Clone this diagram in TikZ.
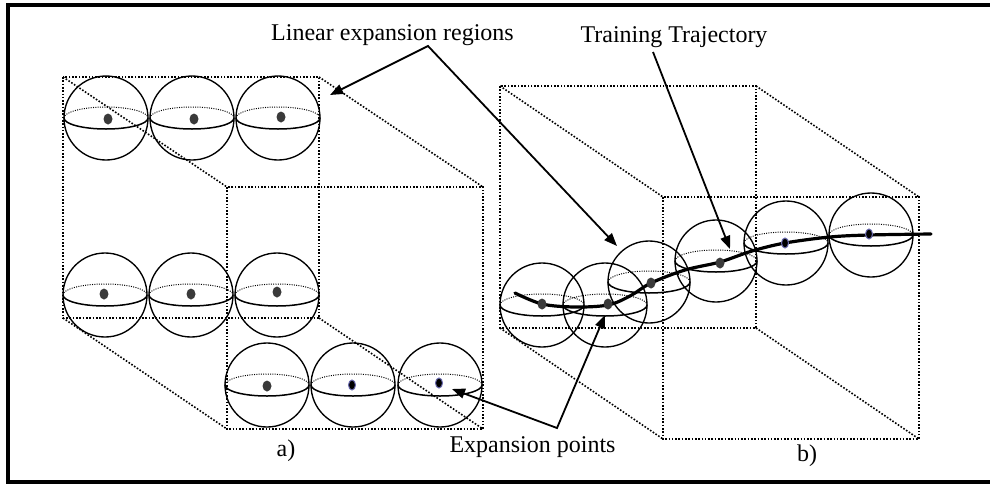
\documentclass[tikz,border=0pt]{standalone}
\usepackage{fontspec}
\setmainfont{Liberation Serif}
\usetikzlibrary{arrows.meta}
\definecolor{dotgray}{HTML}{3A3A3A}
\definecolor{bluish}{HTML}{6A6AB0}
\newcommand\mysphere[3]{%
  \draw[ballline] (#1,#2) circle[radius=#3pt];
  \draw[eqback] (#1,#2) ++(-#3pt,0pt) arc[start angle=180,end angle=0,x radius=#3pt,y radius=11pt];
  \draw[eqfront] (#1,#2) ++(-#3pt,0pt) arc[start angle=180,end angle=360,x radius=#3pt,y radius=11pt];
}
\newcommand\graydot[2]{\fill[dotgray] (#1,#2) ellipse[x radius=4.5pt,y radius=5.5pt];}
\newcommand\bluedot[2]{\filldraw[fill=black,draw=bluish,line width=1pt] (#1,#2) ellipse[x radius=3.5pt,y radius=5pt];}
\begin{document}
\begin{tikzpicture}[x=1pt,y=-1pt,
  frame/.style={line width=4pt},
  cubeedge/.style={line width=1.6pt, dash pattern=on 1.6pt off 1.7pt},
  ballline/.style={line width=1.35pt},
  eqfront/.style={line width=1.5pt},
  eqback/.style={line width=1pt, dash pattern=on 1pt off 1.3pt},
  arr/.style={line width=1.8pt, line join=miter},
  lbl/.style={font=\fontsize{24}{28}\selectfont, inner sep=0pt, anchor=base},
  traj/.style={line width=3.2pt, line cap=round}]
\useasboundingbox (0,0) rectangle (990,485);

% ---- left cube (a)
\draw[cubeedge] (63,77) rectangle (319,318);
\draw[cubeedge] (227,187) rectangle (483,429);
\draw[cubeedge] (63,77) -- (227,187);
\draw[cubeedge] (319,77) -- (483,187);
\draw[cubeedge] (63,318) -- (227,429);
\draw[cubeedge] (319,318) -- (483,429);

% ---- right cube (b)
\draw[cubeedge] (500,86) rectangle (756,328);
\draw[cubeedge] (663,197) rectangle (919,439);
\draw[cubeedge] (500,86) -- (663,197);
\draw[cubeedge] (756,86) -- (919,197);
\draw[cubeedge] (500,328) -- (663,439);
\draw[cubeedge] (756,328) -- (919,439);

% ---- left spheres
\mysphere{106}{118}{42}
\mysphere{192}{118}{42}
\mysphere{278}{118}{42}
\graydot{108}{119}
\graydot{194}{119}
\graydot{281}{117}

\mysphere{105}{295}{42}
\mysphere{191}{295}{42}
\mysphere{277}{295}{42}
\graydot{104}{294}
\graydot{191}{294}
\graydot{277}{292}

\mysphere{267}{385}{42}
\mysphere{353}{385}{42}
\mysphere{440}{385}{42}
\graydot{267}{386}
\bluedot{352}{385}
\bluedot{439}{383}

% ---- right spheres
\mysphere{542}{305}{42}
\mysphere{605}{305}{42}
\mysphere{649}{282}{41}
\mysphere{716}{261}{41}
\mysphere{786}{243}{42}
\mysphere{871}{235}{42}

% trajectory
\draw[traj] plot[smooth, tension=0.55] coordinates {(515,293) (542,304) (575,307) (608,305) (630,296) (651,283) (685,270) (720,262) (752,251) (785,243) (830,237) (869,235) (931,234)};

\graydot{542}{304}
\graydot{608}{304}
\graydot{651}{283}
\graydot{720}{263}
\bluedot{785}{243}
\bluedot{869}{234}

% ---- labels
\node[lbl] (lin) at (392.5,40) {Linear expansion regions};
\node[lbl] (tt) at (674,42.5) {Training Trajectory};
\node[lbl] (ep) at (532.5,452.5) {Expansion points};
\node[lbl] (la) at (286,456) {a)};
\node[lbl] (lb) at (807,461) {b)};

% ---- arrows
\coordinate (linapex) at (428,46);
\coordinate (lintip1) at (330,95);
\coordinate (lintip2) at (617,246);
\coordinate (ttstart) at (653,52);
\coordinate (tttip) at (730,249);
\coordinate (epapex) at (557,428);
\coordinate (eptip1) at (452,389);
\coordinate (eptip2) at (605,315);

\draw[arr, {Triangle[length=13pt,width=10pt]}-{Triangle[length=13pt,width=10pt]}] (lintip1) -- (linapex) -- (lintip2);
\draw[arr, -{Triangle[length=13pt,width=10pt]}] (ttstart) -- (tttip);
\draw[arr, {Triangle[length=13pt,width=10pt]}-{Triangle[length=13pt,width=10pt]}] (eptip1) -- (epapex) -- (eptip2);

% ---- frame
\draw[frame] (8.3,5) rectangle (1000,481.5);
\end{tikzpicture}
\end{document}
